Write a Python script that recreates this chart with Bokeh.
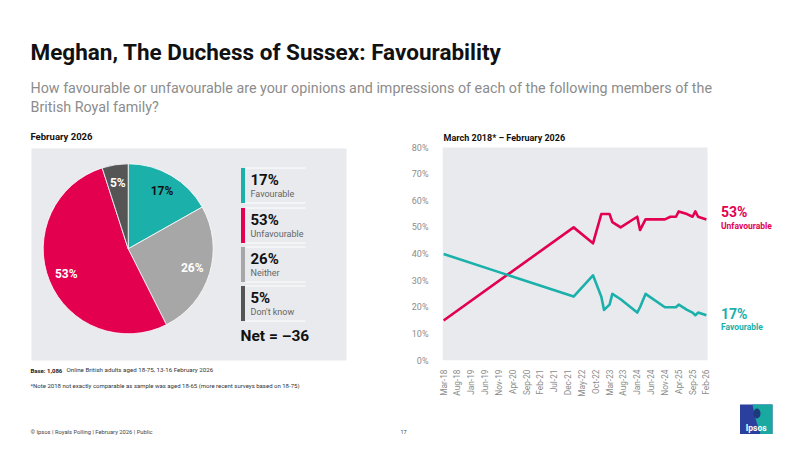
import math
from bokeh.plotting import figure
from bokeh.layouts import column, row
from bokeh.models import Range1d, FixedTicker, ColumnDataSource
from bokeh.core.properties import value
from bokeh.embed import file_html
from bokeh.resources import INLINE

# ---------------- data ----------------
title_text = "Meghan, The Duchess of Sussex: Favourability"
subtitle_lines = [
    "How favourable or unfavourable are your opinions  and impressions of each of the following members of the",
    "British Royal family?",
]
pie_title = "February 2026"
line_title = "March 2018* \u2013 February 2026"

pie_categories = ["Favourable", "Neither", "Unfavourable", "Don't know"]
pie_values = [17, 26, 53, 5]
legend_categories = ["Favourable", "Unfavourable", "Neither", "Don't know"]
legend_values = [17, 53, 26, 5]
net_score = -36

survey_dates = ["2018-03", "2022-02", "2022-09", "2022-12", "2023-01", "2023-03",
                "2023-04", "2023-07", "2024-01", "2024-02", "2024-04", "2024-11",
                "2025-01", "2025-03", "2025-04", "2025-07", "2025-09", "2025-10",
                "2025-11", "2026-02"]
unfavourable = [15, 50, 44, 55, 55, 55, 52, 50, 54, 49, 53, 53, 54, 54, 56, 55, 54, 56, 54, 53]
favourable = [40, 24, 32, 24, 19, 21, 25, 23, 18, 20, 25, 20, 20, 20, 21, 19, 18, 17, 18, 17]

x_tick_labels = ["Mar-18", "Aug-18", "Jan-19", "Jun-19", "Nov-19", "Apr-20", "Sep-20",
                 "Feb-21", "Jul-21", "Dec-21", "May-22", "Oct-22", "Mar-23", "Aug-23",
                 "Jan-24", "Jun-24", "Nov-24", "Apr-25", "Sep-25", "Feb-26"]
y_ticks = [0, 10, 20, 30, 40, 50, 60, 70, 80]

base_n = "Base: 1,086"
base_note = "Online British adults aged 18-75, 13-16 February 2026"
star_note = "*Note 2018 not exactly comparable as sample was aged 18-65 (more recent surveys based on 18-75)"
footer_text = "\u00a9 Ipsos | Royals Polling | February 2026 | Public"
page_number = "17"

# ---------------- style ----------------
TEAL = "#1bb0aa"
RED = "#e3004f"
GREY = "#a7a7a7"
DARK = "#555555"
PANEL = "#e8eaee"
FONT = "Roboto"
pie_colors = {"Favourable": TEAL, "Neither": GREY, "Unfavourable": RED, "Don't know": DARK}
label_colors = {"Favourable": "#111111", "Neither": "white", "Unfavourable": "white", "Don't know": "white"}

H = 451  # page height; data y = H - page y
MID_TOP, MID_BOT = 125, 400          # middle row (page y)
FR_BOT = 360                         # bottom of line-chart panel (page y)


def no_align(f):
    try:
        f.frame_align = False
    except AttributeError:
        pass


def blank(width, height, y0, y1, x0, x1):
    f = figure(width=width, height=height, x_range=Range1d(x0, x1),
               y_range=Range1d(H - y1, H - y0), output_backend="svg",
               toolbar_location=None, x_axis_location=None, y_axis_location=None,
               min_border=0, min_border_left=0, min_border_right=0,
               min_border_top=0, min_border_bottom=0)
    f.outline_line_color = None
    f.grid.visible = False
    f.background_fill_color = "white"
    f.border_fill_color = "white"
    no_align(f)
    return f


def txt(f, x, py, s, size, color="#111111", bold=False, align="left"):
    f.text(x=[x], y=[H - py], text=[s], text_font=value(FONT), text_font_size=size,
           text_color=color, text_font_style="bold" if bold else "normal",
           text_align=align, text_baseline="middle")


# ---------------- header ----------------
header = blank(800, 125, 0, 125, 0, 800)
txt(header, 30, 51, title_text, "22.5px", "#111111", bold=True)
txt(header, 30, 87, subtitle_lines[0], "14.3px", "#8c8c8c")
txt(header, 30, 106, subtitle_lines[1], "14.3px", "#8c8c8c")

# ---------------- left panel: pie ----------------
left = blank(400, MID_BOT - MID_TOP, MID_TOP, MID_BOT, 0, 400)
txt(left, 30, 136, pie_title, "9.5px", "#111111", bold=True)
left.quad(left=[31], right=[346], top=[H - 148], bottom=[H - 360], fill_color=PANEL, line_color=None)

cx, cy, R = 127.7, H - 248.3, 85
total = float(sum(pie_values))
starts, ends, cols, lx, ly, ltxt, lcol = [], [], [], [], [], [], []
cum = 0.0
for cat, v in zip(pie_categories, pie_values):
    a0 = math.pi / 2 - 2 * math.pi * cum / total
    a1 = math.pi / 2 - 2 * math.pi * (cum + v) / total
    mid = (a0 + a1) / 2
    starts.append(a0)
    ends.append(a1)
    cols.append(pie_colors[cat])
    lx.append(cx + 67 * math.cos(mid))
    ly.append(cy + 67 * math.sin(mid))
    ltxt.append(f"{v}%")
    lcol.append(label_colors[cat])
    cum += v
left.wedge(x=cx, y=cy, radius=R, start_angle=starts, end_angle=ends, direction="clock",
           fill_color=cols, line_color="white", line_width=0.8)
left.text(x=lx, y=ly, text=ltxt, text_color=lcol, text_font=value(FONT),
          text_font_size="12px", text_font_style="bold", text_align="center",
          text_baseline="middle")

# legend blocks
block_tops = [167.5, 207.5, 246.5, 285.5]
block_h = 35
for i, (cat, v) in enumerate(zip(legend_categories, legend_values)):
    t = block_tops[i]
    left.quad(left=[240.5], right=[244.5], top=[H - t], bottom=[H - t - block_h],
              fill_color=pie_colors[cat], line_color=None)
    left.segment(x0=[245], x1=[305], y0=[H - t], y1=[H - t], line_color="white", line_width=1)
    left.segment(x0=[245], x1=[305], y0=[H - t - block_h], y1=[H - t - block_h],
                 line_color="white", line_width=1)
    txt(left, 250, t + 11.5, f"{v}%", "15px", "#111111", bold=True)
    txt(left, 250, t + 26, cat, "9px", "#666666")
txt(left, 240, 335, f"Net = \u2013{abs(net_score)}", "15.5px", "#111111", bold=True)

# footnotes
txt(left, 30, 369.5, base_n, "6px", "#222222", bold=True)
txt(left, 66, 369.5, base_note, "6.2px", "#333333")
txt(left, 30, 385, star_note, "6px", "#333333")

# ---------------- right panel: line chart ----------------
months = [(int(d[:4]) - 2018) * 12 + int(d[5:7]) - 3 for d in survey_dates]
src = ColumnDataSource(dict(m=months, unfav=unfavourable, fav=favourable))

PANEL_L, PANEL_R = 442, 707            # page x of the grey plotting panel
X0, X1 = -0.4, 95.4                    # data extent of the panel
kx = (PANEL_R - PANEL_L) / (X1 - X0)
x_end = X0 + (800 - PANEL_L) / kx
Y_TOP_VAL = 80
ky = (FR_BOT - 147) / Y_TOP_VAL
y_end = (FR_BOT - MID_TOP) / ky

right = figure(width=400, height=MID_BOT - MID_TOP, x_range=Range1d(X0, x_end),
               y_range=Range1d(0, y_end), output_backend="svg", toolbar_location=None,
               min_border=0, min_border_left=PANEL_L - 400, min_border_right=0,
               min_border_top=0, min_border_bottom=MID_BOT - FR_BOT)
no_align(right)
right.outline_line_color = None
right.background_fill_color = "white"
right.border_fill_color = "white"
right.grid.visible = False

right.quad(left=[X0], right=[X1], bottom=[0], top=[Y_TOP_VAL], fill_color=PANEL, line_color=None)
right.line("m", "unfav", source=src, line_color=RED, line_width=2.6, line_join="round")
right.line("m", "fav", source=src, line_color=TEAL, line_width=2.6, line_join="round")

xt = list(range(0, 5 * len(x_tick_labels), 5))
right.xaxis.ticker = FixedTicker(ticks=xt)
right.xaxis.major_label_overrides = {t: l for t, l in zip(xt, x_tick_labels)}
right.xaxis.major_label_orientation = math.pi / 2
right.yaxis.ticker = FixedTicker(ticks=y_ticks)
right.yaxis.major_label_overrides = {t: f"{t}%" for t in y_ticks}
for ax in (right.xaxis, right.yaxis):
    ax.axis_line_color = None
    ax.major_tick_line_color = None
    ax.minor_tick_line_color = None
    ax.major_label_text_color = "#8c8c8c"
    ax.major_label_text_font = FONT
right.xaxis.major_label_text_font_size = "8.3px"
right.yaxis.major_label_text_font_size = "9px"
right.xaxis.major_label_standoff = 3
right.yaxis.major_label_standoff = 8


def rtxt(x, y, s, size, color, bold=True):
    right.text(x=[x], y=[y], text=[s], text_font=value(FONT), text_font_size=size,
               text_color=color, text_font_style="bold" if bold else "normal",
               text_align="left", text_baseline="middle")


rtxt(0, 83.6, line_title, "9px", "#111111")
end_x = X0 + (720.5 - PANEL_L) / kx
rtxt(end_x, unfavourable[-1] + 2.6, f"{unfavourable[-1]}%", "14px", RED)
rtxt(end_x, unfavourable[-1] - 2.6, "Unfavourable", "8.5px", RED)
rtxt(end_x, favourable[-1] + 0.5, f"{favourable[-1]}%", "14px", TEAL)
rtxt(end_x, favourable[-1] - 4.5, "Favourable", "8.5px", TEAL)

# ---------------- footer ----------------
footer = blank(800, H - MID_BOT, MID_BOT, H, 0, 800)
txt(footer, 30, 431, footer_text, "5.8px", "#444444")
txt(footer, 400, 431, page_number, "5.5px", "#444444")
footer.quad(left=[739.5], right=[772], top=[H - 404], bottom=[H - 433.5],
            fill_color="#2b3f9e", line_color=None)
footer.patch(x=[752, 772, 772, 760, 755], y=[H - 404, H - 404, H - 433.5, H - 433.5, H - 418],
             fill_color="#1aa9a0", line_color=None)
footer.ellipse(x=[756.5], y=[H - 413], width=[7], height=[10], fill_color="#1d3a7a", line_color=None)
txt(footer, 755.7, 427, "Ipsos", "8.5px", "white", bold=True, align="center")

layout = column(header, row(left, right, spacing=0), footer, spacing=0)
open("out.html", "w").write(file_html(layout, INLINE))
